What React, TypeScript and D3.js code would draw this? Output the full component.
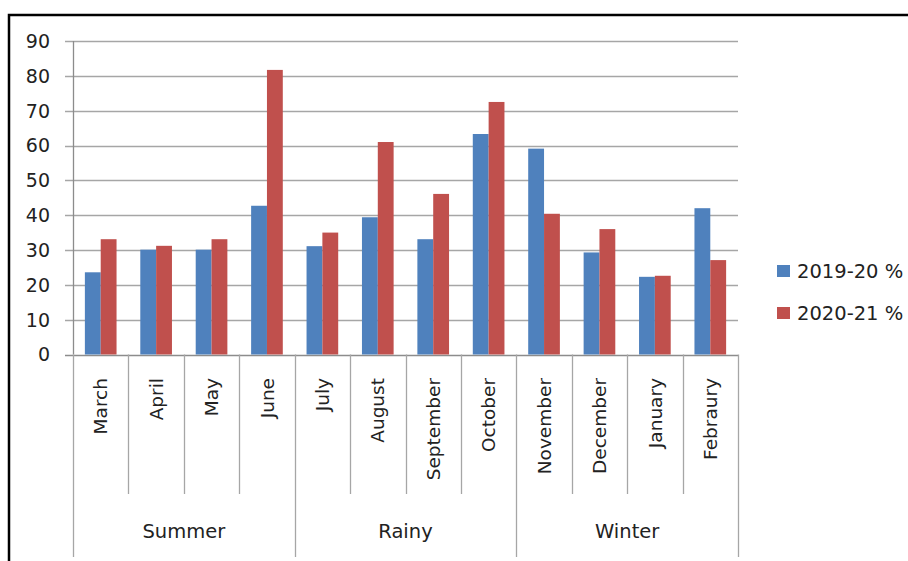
import React from 'react';
import * as d3 from 'd3';

const months = ['March', 'April', 'May', 'June', 'July', 'August', 'September', 'October', 'November', 'December', 'January', 'Febraury'];
const seasons = ['Summer', 'Rainy', 'Winter'];
const seasonSize = [4, 4, 4];
const seriesNames = ['2019-20 %', '2020-21 %'];
const values1920 = [23.6, 30.1, 30.1, 42.7, 31.1, 39.4, 33.1, 63.3, 59.1, 29.3, 22.3, 42.0];
const values2021 = [33.1, 31.2, 33.1, 81.7, 35.0, 61.0, 46.1, 72.5, 40.4, 36.0, 22.6, 27.1];
const yTicks = [0, 10, 20, 30, 40, 50, 60, 70, 80, 90];
const colors = ['#4F81BD', '#C0504D'];

const W = 908;
const H = 561;
const FONT = '"DejaVu Sans", sans-serif';

export default function App() {
  const left = 73, right = 738, top = 41, bottom = 354.5;

  const x = d3.scaleBand<string>().domain(months).range([left, right]).padding(0);
  const x1 = d3.scaleBand<string>().domain(seriesNames).range([0, x.bandwidth()]).paddingInner(0).paddingOuter(0.75);
  const y = d3.scaleLinear().domain([0, 90]).range([bottom, top]);
  const series = [values1920, values2021];

  // season boundaries (in month index)
  const bounds: number[] = [0];
  seasonSize.forEach(n => bounds.push(bounds[bounds.length - 1] + n));
  const boundX = (i: number) => (i < months.length ? (x(months[i]) as number) : right);

  return (
    <svg width={W} height={H} style={{ position: 'absolute', left: 0, top: 0, display: 'block', background: '#fff' }} fontFamily={FONT}>
      <rect x={0} y={0} width={W} height={H} fill="#fff" />
      <rect x={9} y={15} width={1200} height={1200} fill="none" stroke="#000" strokeWidth={2.5} />

      {/* gridlines + y ticks */}
      {yTicks.map(t => (
        <g key={t}>
          <line x1={65} x2={right} y1={Math.round(y(t)) + 0.5} y2={Math.round(y(t)) + 0.5} stroke={t === 0 ? '#8c8c8c' : '#a6a6a6'} strokeWidth={1.3} />
          <text x={50} y={y(t)} dy="0.36em" textAnchor="end" fontSize={19} fill="#222">{t}</text>
        </g>
      ))}
      <line x1={left + 0.5} x2={left + 0.5} y1={top} y2={bottom} stroke="#8c8c8c" strokeWidth={1.3} />

      {/* bars */}
      {series.map((vals, si) =>
        vals.map((v, i) => (
          <rect
            key={`${si}-${i}`}
            x={(x(months[i]) as number) + (x1(seriesNames[si]) as number)}
            y={y(v)}
            width={x1.bandwidth()}
            height={y(0) - y(v)}
            fill={colors[si]}
          />
        ))
      )}

      {/* category axis separators */}
      {months.map((m, i) => {
        if (bounds.includes(i)) return null;
        const xx = Math.round(x(m) as number) + 0.5;
        return <line key={m} x1={xx} x2={xx} y1={bottom} y2={494} stroke="#a6a6a6" strokeWidth={1.3} />;
      })}
      {bounds.map(b => {
        const xx = Math.round(boundX(b)) + 0.5;
        return <line key={`b${b}`} x1={xx} x2={xx} y1={bottom} y2={557} stroke="#a6a6a6" strokeWidth={1.3} />;
      })}

      {/* month labels */}
      {months.map(m => {
        const cx = (x(m) as number) + x.bandwidth() / 2;
        return (
          <text key={m} transform={`translate(${cx},378) rotate(-90)`} textAnchor="end" dy="0.36em" fontSize={18.5} fill="#222">{m}</text>
        );
      })}

      {/* season labels */}
      {seasons.map((s, i) => {
        const cx = (boundX(bounds[i]) + boundX(bounds[i + 1])) / 2;
        return <text key={s} x={cx} y={531} dy="0.36em" textAnchor="middle" fontSize={19.5} fill="#222">{s}</text>;
      })}

      {/* legend */}
      {seriesNames.map((n, i) => (
        <g key={n} transform={`translate(777,${271 + i * 42})`}>
          <rect x={0} y={-6} width={13} height={12} fill={colors[i]} />
          <text x={20} y={0} dy="0.36em" fontSize={19.5} fill="#222">{n}</text>
        </g>
      ))}
    </svg>
  );
}
